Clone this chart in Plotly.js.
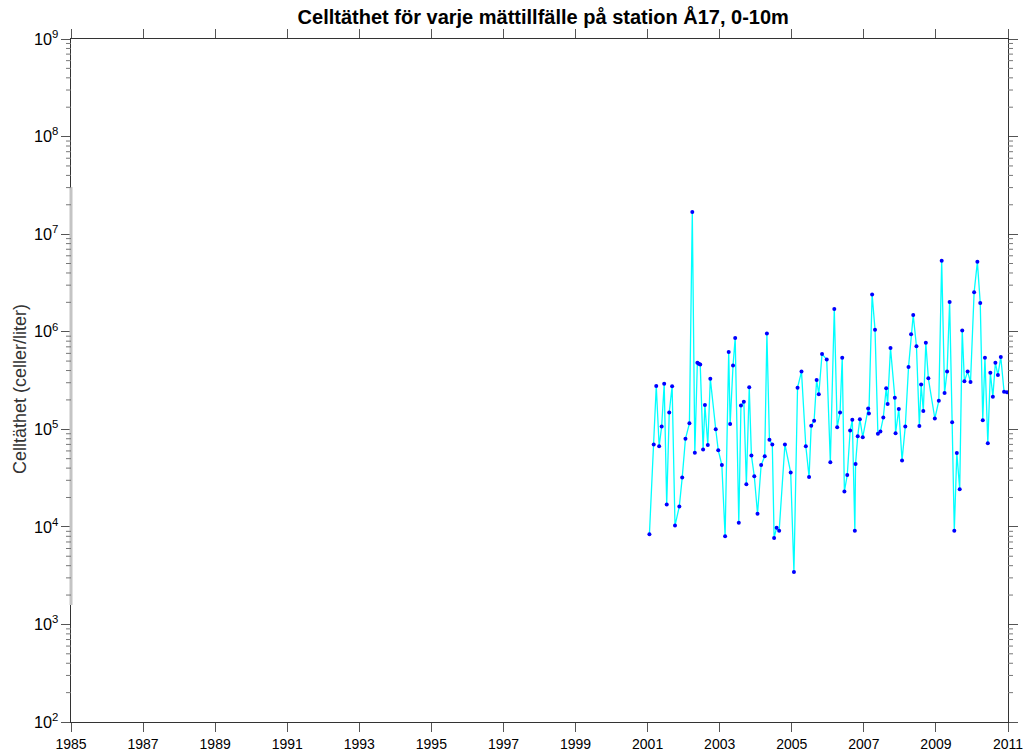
<!DOCTYPE html>
<html>
<head>
<meta charset="utf-8">
<script src="https://cdn.plot.ly/plotly-3.0.1.min.js"></script>
<style>html,body{margin:0;padding:0;background:#fff;}#chart{width:1029px;height:756px;}</style>
</head>
<body>
<div id="chart"></div>
<script>
// Sampling times (decimal years)
const years = [
  2001.05,2001.17,2001.24,2001.32,2001.39,2001.46,2001.53,2001.60,2001.68,2001.76,
  2001.88,2001.96,2002.05,2002.16,2002.24,2002.31,2002.38,2002.42,2002.46,2002.54,
  2002.59,2002.67,2002.74,2002.89,2002.96,2003.06,2003.15,2003.25,2003.29,2003.37,
  2003.43,2003.53,2003.59,2003.67,2003.74,2003.82,2003.88,2003.96,2004.05,2004.15,
  2004.25,2004.31,2004.38,2004.46,2004.51,2004.58,2004.65,2004.81,2004.97,2005.06,
  2005.16,2005.27,2005.39,2005.48,2005.54,2005.62,2005.69,2005.75,2005.84,2005.97,
  2006.07,2006.18,2006.26,2006.34,2006.40,2006.46,2006.54,2006.62,2006.68,2006.75,
  2006.77,2006.83,2006.89,2006.97,2007.12,2007.14,2007.23,2007.31,2007.39,2007.46,
  2007.54,2007.62,2007.66,2007.74,2007.86,2007.88,2007.97,2008.06,2008.15,2008.24,
  2008.31,2008.37,2008.46,2008.54,2008.59,2008.65,2008.72,2008.79,2008.97,2009.08,
  2009.16,2009.24,2009.31,2009.38,2009.45,2009.51,2009.58,2009.66,2009.73,2009.79,
  2009.88,2009.96,2010.06,2010.15,2010.23,2010.30,2010.36,2010.44,2010.51,2010.58,
  2010.65,2010.72,2010.80,2010.89,2010.97
];
// Cell density (celler/liter)
const cells = [
  8.4e3,7.0e4,2.78e5,6.7e4,1.07e5,2.93e5,1.69e4,1.49e5,2.76e5,1.03e4,
  1.62e4,3.2e4,8.0e4,1.15e5,1.69e7,5.75e4,4.8e5,4.7e5,4.6e5,6.2e4,
  1.77e5,6.9e4,3.3e5,1.0e5,6.1e4,4.3e4,8.0e3,6.2e5,1.13e5,4.5e5,
  8.6e5,1.1e4,1.75e5,1.92e5,2.73e4,2.7e5,5.4e4,3.3e4,1.36e4,4.3e4,
  5.3e4,9.6e5,7.8e4,7.0e4,7.7e3,9.8e3,9.1e3,7.0e4,3.6e4,3.44e3,
  2.67e5,3.9e5,6.7e4,3.25e4,1.09e5,1.22e5,3.2e5,2.28e5,5.9e5,5.2e5,
  4.6e4,1.71e6,1.05e5,1.49e5,5.4e5,2.31e4,3.4e4,9.7e4,1.25e5,9.1e3,
  4.4e4,8.5e4,1.27e5,8.3e4,1.63e5,1.45e5,2.41e6,1.05e6,9.0e4,9.5e4,
  1.32e5,2.63e5,1.82e5,6.8e5,2.11e5,9.1e4,1.61e5,4.8e4,1.07e5,4.35e5,
  9.4e5,1.48e6,7.1e5,1.08e5,2.87e5,1.54e5,7.7e5,3.33e5,1.29e5,1.96e5,
  5.35e6,2.36e5,3.9e5,2.02e6,1.18e5,9.1e3,5.7e4,2.43e4,1.03e6,3.1e5,
  3.9e5,3.05e5,2.54e6,5.2e6,1.97e6,1.24e5,5.4e5,7.2e4,3.8e5,2.16e5,
  4.8e5,3.6e5,5.5e5,2.43e5,2.4e5
];
const xTicks = [1985,1987,1989,1991,1993,1995,1997,1999,2001,2003,2005,2007,2009,2011];
const decades = [2,3,4,5,6,7,8];
const minorMultipliers = [2,3,4,5,6,7,8,9];
const titleText = "Celltäthet för varje mättillfälle på station Å17, 0-10m";
const yTitle = "Celltäthet (celler/liter)";

const trace = {
  x: years, y: cells, type: 'scatter', mode: 'lines+markers',
  line: {color: '#00FFFF', width: 1.3},
  marker: {color: '#0000FF', size: 4},
  hoverinfo: 'x+y'
};

// minor log ticks drawn as short lines on both y-axis sides
const PW = 937; // plot width in px
const minorTickShapes = [];
decades.forEach(d => minorMultipliers.forEach(m => {
  const v = m * Math.pow(10, d);
  [[-5 / PW, 0], [1, 1 + 5 / PW]].forEach(([a, b]) => minorTickShapes.push({
    type: 'line', xref: 'paper', yref: 'y', x0: a, x1: b, y0: v, y1: v,
    line: {color: '#777', width: 1}, layer: 'above'
  }));
}));

const FONT = 'Arial, "Liberation Sans", Helvetica, sans-serif';
const layout = {
  width: 1029, height: 756,
  margin: {l: 71, r: 21, t: 39, b: 34},
  paper_bgcolor: '#fff', plot_bgcolor: '#fff',
  showlegend: false,
  font: {family: FONT, size: 14, color: '#000'},
  title: {text: '<b>' + titleText + '</b>', xref: 'paper', x: 0.504, xanchor: 'center',
          yref: 'container', y: 0.977, yanchor: 'middle',
          font: {family: FONT, size: 20, color: '#000'}},
  xaxis: {
    range: [1985, 2011], tickvals: xTicks, ticktext: xTicks.map(String),
    showgrid: false, zeroline: false, showline: true, linecolor: '#333', linewidth: 1,
    mirror: 'ticks', ticks: 'outside', ticklen: 9, tickcolor: '#555', tickwidth: 1,
    tickfont: {family: FONT, size: 14, color: '#000'}
  },
  yaxis: {
    type: 'log', range: [2, 9], dtick: 1, exponentformat: 'power',
    showgrid: false, zeroline: false, showline: true, linecolor: '#333', linewidth: 1,
    mirror: 'ticks', ticks: 'outside', ticklen: 9, tickcolor: '#555', tickwidth: 1,
    tickfont: {family: FONT, size: 13, color: '#000'}
  },
  annotations: [{
    text: yTitle, xref: 'paper', yref: 'paper', x: -(71 - 20) / 937, y: (722 - 389) / 683,
    xanchor: 'center', yanchor: 'middle', textangle: -90, showarrow: false,
    font: {family: FONT, size: 18, color: '#333'}
  }],
  shapes: [{
    type: 'line', xref: 'paper', yref: 'y', x0: 0, x1: 0, y0: 3.04e7, y1: 1585,
    line: {color: '#c4c4c4', width: 3}, layer: 'above'
  }].concat(minorTickShapes)
};
Plotly.newPlot('chart', [trace], layout, {displayModeBar: false, staticPlot: true});
</script>
</body>
</html>
